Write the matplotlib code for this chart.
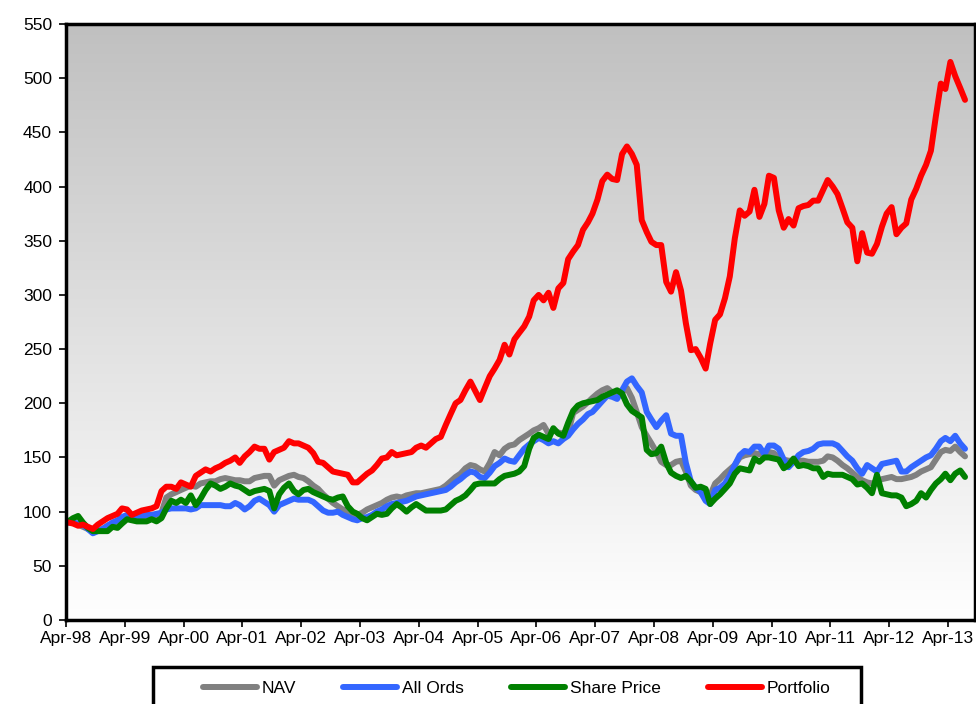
import numpy as np
import pandas as pd
import matplotlib
matplotlib.use('Agg')
import matplotlib.pyplot as plt
from matplotlib.colors import LinearSegmentedColormap
from matplotlib.patches import Rectangle

plt.rcParams['font.family'] = ['Liberation Sans', 'DejaVu Sans']

# monthly data, Apr-98 .. Jul-13
months = pd.date_range('1998-04-01', periods=184, freq='MS') + pd.Timedelta(days=14)

nav = [
    90, 90, 88, 86, 84, 82, 83, 84, 87, 89, 91, 94,
    95, 94, 93, 93, 95, 95, 96, 99, 113, 116, 118, 120,
    122, 124, 123, 126, 127, 128, 128, 130, 131, 130, 129, 129,
    128, 128, 131, 132, 133, 133, 124, 129, 131, 133, 134, 132,
    131, 128, 124, 121, 116, 112, 108, 105, 102, 100, 98, 97,
    99, 102, 104, 106, 108, 111, 113, 114, 113, 115, 116, 117,
    117, 118, 119, 120, 121, 124, 128, 132, 135, 140, 143, 142,
    139, 137, 145, 155, 152, 158, 161, 162, 166, 169, 172, 175,
    177, 180, 172, 175, 173, 172, 173, 191, 194, 197, 201, 205,
    209, 212, 214, 210, 206, 210, 214, 205, 192, 178, 170, 163,
    155, 146, 143, 143, 146, 147, 137, 124, 120, 118, 113, 115,
    126, 130, 135, 139, 143, 150, 152, 153, 154, 153, 154, 155,
    154, 149, 148, 147, 147, 147, 147, 146, 146, 146, 147, 151,
    150, 147, 143, 140, 136, 132, 129, 127, 126, 128, 130, 131,
    132, 130, 130, 131, 132, 134, 137, 139, 141, 148, 155, 157,
    156, 160, 155, 151,
]

all_ords = [
    90, 90, 89, 88, 84, 80, 82, 84, 87, 90, 92, 95,
    97, 96, 95, 96, 97, 97, 98, 99, 102, 103, 103, 103,
    103, 102, 103, 106, 106, 106, 106, 106, 105, 105, 108, 106,
    102, 105, 110, 112, 109, 106, 100, 106, 108, 110, 112, 111,
    111, 111, 109, 105, 101, 99, 99, 100, 97, 95, 93, 92,
    94, 95, 97, 100, 102, 105, 107, 108, 109, 110, 112, 114,
    115, 116, 117, 118, 119, 120, 123, 127, 130, 134, 137, 136,
    132, 131, 136, 142, 145, 149, 147, 146, 152, 158, 162, 165,
    168, 166, 163, 165, 163, 167, 170, 176, 181, 185, 190, 192,
    197, 202, 207, 206, 204, 212, 220, 223, 216, 210, 192, 185,
    178, 184, 189, 172, 170, 170, 145, 128, 122, 118, 110, 107,
    120, 122, 126, 133, 143, 152, 156, 155, 160, 160, 153, 161,
    161, 158, 148, 141, 146, 152, 155, 156, 158, 162, 163, 163,
    163, 161, 156, 151, 147, 140, 135, 143, 140, 137, 144, 145,
    146, 147, 137, 137, 141, 144, 147, 150, 152, 158, 165, 168,
    165, 170, 163, 158,
]

share_price = [
    91, 94, 96, 90, 85, 82, 82, 82, 82, 86, 85, 89,
    93, 92, 91, 91, 91, 93, 91, 94, 103, 110, 108, 111,
    108, 115, 106, 112, 120, 126, 124, 121, 123, 126, 124, 123,
    120, 117, 119, 120, 121, 119, 103, 116, 122, 126, 119, 116,
    120, 121, 118, 116, 114, 112, 111, 113, 114, 105, 100, 98,
    94, 92, 95, 98, 97, 98, 103, 107, 104, 100, 104, 107,
    104, 101, 101, 101, 101, 102, 106, 110, 112, 115, 120, 125,
    126, 126, 126, 126, 130, 133, 134, 135, 137, 142, 158, 168,
    171, 169, 167, 177, 172, 170, 182, 193, 198, 200, 201, 202,
    203, 206, 208, 210, 212, 209, 199, 193, 190, 187, 157, 153,
    154, 160, 145, 136, 133, 131, 133, 128, 122, 123, 121, 107,
    112, 116, 121, 126, 135, 140, 139, 138, 149, 146, 150, 150,
    149, 148, 140, 143, 149, 142, 143, 142, 140, 140, 132, 135,
    134, 134, 134, 132, 130, 125, 126, 122, 117, 134, 117, 116,
    115, 115, 113, 105, 107, 110, 117, 113, 120, 126, 130, 135,
    129, 135, 138, 132,
]

portfolio = [
    90, 89, 87, 88, 86, 84, 88, 91, 94, 96, 98, 103,
    102, 97, 99, 101, 102, 103, 105, 119, 123, 123, 121, 127,
    125, 123, 133, 136, 139, 137, 140, 142, 145, 147, 150, 145,
    151, 155, 160, 158, 158, 148, 155, 157, 159, 165, 163, 163,
    161, 159, 154, 146, 145, 141, 137, 136, 135, 134, 127, 127,
    131, 135, 138, 143, 149, 150, 155, 152, 153, 154, 155, 159,
    161, 159, 163, 167, 169, 180, 190, 200, 203, 212, 220, 212,
    203, 214, 225, 232, 240, 254, 245, 259, 265, 271, 280, 295,
    300, 295, 302, 288, 306, 311, 333, 340, 346, 360, 367, 375,
    388, 405, 411, 407, 406, 430, 437, 430, 420, 369, 358, 349,
    346, 346, 312, 303, 321, 304, 274, 249, 250, 242, 232, 255,
    277, 282, 297, 317, 352, 378, 373, 377, 397, 372, 384, 410,
    408, 378, 362, 370, 364, 380, 382, 383, 387, 387, 397, 406,
    400, 393, 380, 367, 362, 331, 357, 339, 338, 347, 363, 375,
    381, 356, 362, 366, 388, 398, 410, 420, 433, 465, 495, 490,
    515, 502, 491, 480,
]

series_names = ['NAV', 'All Ords', 'Share Price', 'Portfolio']
series_colors = ['#808080', '#3366FF', '#008000', '#FF0000']

year_ticks = pd.date_range('1998-04-01', '2013-04-01', freq='12MS')
y_ticks = np.arange(0, 551, 50)

fig = plt.figure(figsize=(9.76, 7.04), dpi=100)
ax = fig.add_axes([66 / 976, 1 - 620 / 704, 909 / 976, 596 / 704])

x_left = pd.Timestamp('1998-04-01')
x_right = pd.Timestamp('2013-09-15')
ax.set_xlim(x_left, x_right)
ax.set_ylim(0, 550)

# grey-to-white background gradient
cmap = LinearSegmentedColormap.from_list('bg', ['#FFFFFF', '#C0C0C0'])
grad = np.linspace(0, 1, 256).reshape(-1, 1)
ax.imshow(grad, cmap=cmap, aspect='auto', origin='lower',
          extent=[matplotlib.dates.date2num(x_left), matplotlib.dates.date2num(x_right), 0, 550],
          zorder=0)

for vals, name, col in zip([nav, all_ords, share_price, portfolio], series_names, series_colors):
    ax.plot(months, vals, color=col, lw=4.3, label=name, zorder=2,
            solid_joinstyle='round', solid_capstyle='round')

ax.set_xticks(year_ticks)
ax.set_xticklabels([d.strftime('%b-%y') for d in year_ticks])
ax.set_yticks(y_ticks)
ax.tick_params(axis='both', direction='out', length=5, width=1.2, labelsize=12.5, color='black')
ax.tick_params(axis='x', pad=3)
ax.tick_params(axis='y', pad=5)

for sp in ax.spines.values():
    sp.set_linewidth(2.5)
    sp.set_color('black')

# legend box (runs off the bottom of the image)
fig.add_artist(Rectangle((153 / 976, -0.05), 708 / 976, (704 - 667) / 704 + 0.05,
                         transform=fig.transFigure, fill=False, lw=2.5,
                         edgecolor='black', clip_on=False))
leg = fig.legend(loc='center left', bbox_to_anchor=(203 / 976, 1 - 688 / 704), ncol=4,
                 fontsize=12.5, handlelength=3.1, handletextpad=0.3, columnspacing=2.7,
                 borderpad=0, borderaxespad=0, frameon=False)
for line in leg.get_lines():
    line.set_linewidth(4.3)

fig.savefig('out.png', dpi=100)
